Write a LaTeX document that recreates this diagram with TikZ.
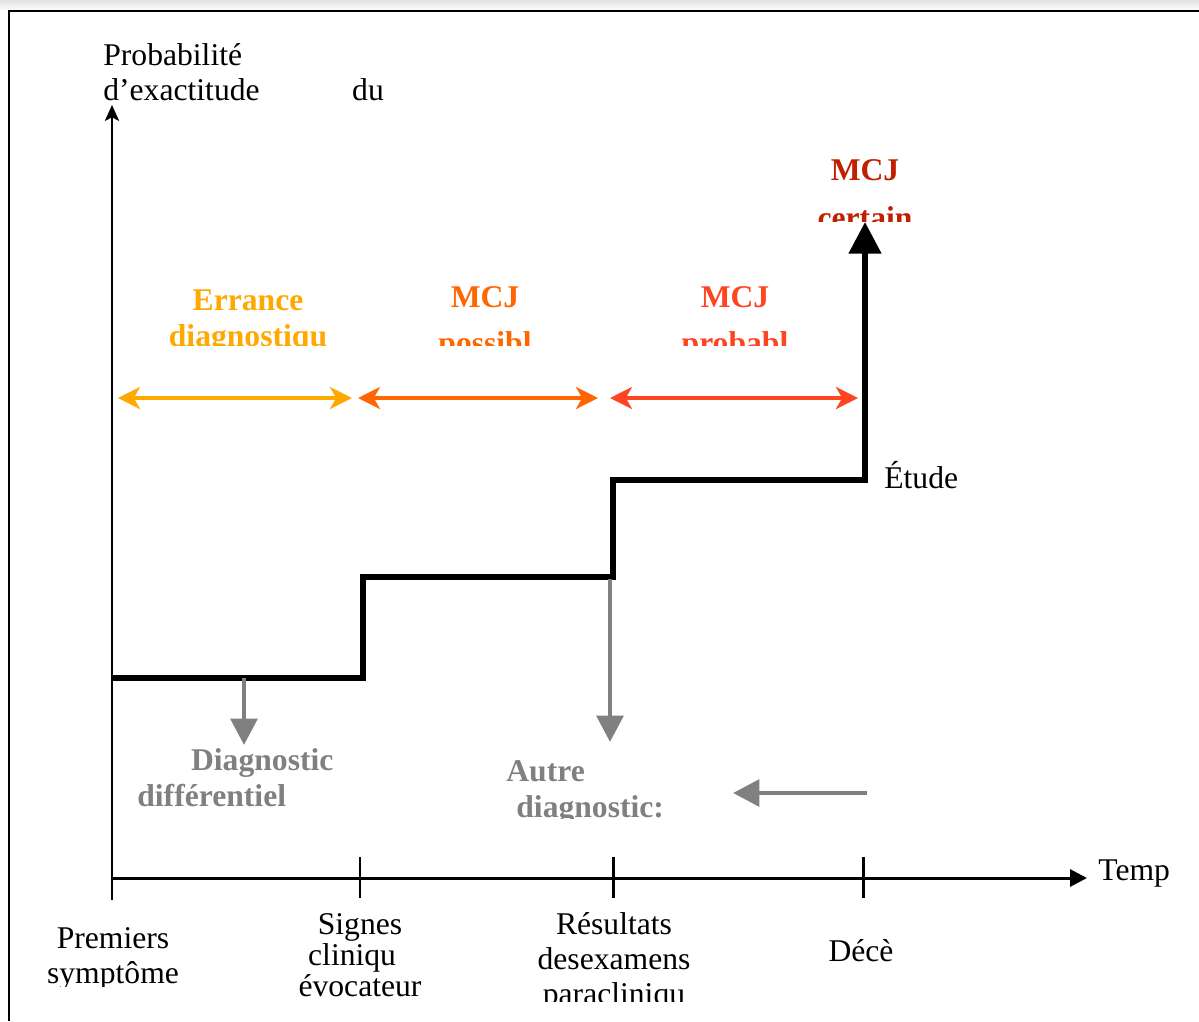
\documentclass[tikz,border=0pt]{standalone}
\usepackage{fontspec}
\setmainfont{Liberation Serif}
\usetikzlibrary{arrows.meta}
\definecolor{myamber}{RGB}{255,168,0}
\definecolor{myorange}{RGB}{255,102,0}
\definecolor{myred}{RGB}{255,68,34}
\definecolor{mydarkred}{RGB}{192,32,0}
\definecolor{mygray}{RGB}{128,128,128}

\begin{document}
\begin{tikzpicture}[x=0.02cm, y=-0.02cm,
    txt/.style={font=\fontsize{18}{19.8}\selectfont, inner sep=0pt, anchor=base, align=center},
    btxt/.style={txt, font=\bfseries\fontsize{18}{20}\selectfont},
    span/.style={line width=2.2pt, {Stealth[length=12.5pt, width=12.5pt, inset=3.5pt]}-{Stealth[length=12.5pt, width=12.5pt, inset=3.5pt]}},
    hint/.style={draw=mygray, line width=2.8pt, -{Triangle[length=15pt, width=15pt]}}]
  \useasboundingbox (0,0) rectangle (1199,1021);
  % frame
  \shade[top color=gray!22, bottom color=gray!4] (0,0) rectangle (1199,9);
  \draw[line width=1.7pt] (1199,11) -- (9,11) -- (9,1021);

  % axes (multi-line nodes sit on the baseline of their last line)
  \coordinate (o) at (112,878);
  \coordinate (ytop) at (112,105);
  \coordinate (xend) at (1087,878);
  \draw[line width=1.7pt, -{Stealth[length=9pt, width=8pt, inset=2pt]}] (o) -- (ytop);
  \draw[line width=1.7pt, -{Triangle[length=9.6pt, width=9.6pt]}] (o) -- (xend);
  \draw[line width=1.7pt] (o) -- (112,900);
  \foreach \t in {360,613,863}
    \draw[line width=1.7pt] (\t,857) -- (\t,898);
  \node[txt, anchor=base west, align=left] (ylab) at (103,100) {Probabilité\\d’exactitude\hspace{52.7pt}du};
  \node[txt, anchor=base west] (temp) at (1098,880) {Temp};

  % time marks
  \begin{scope}
    \clip (20,900) rectangle (1199,986);
    \node[txt] (premiers) at (113,983) {Premiers\\symptôme};
  \end{scope}
  \begin{scope}
    \clip (250,900) rectangle (480,999);
    \node[txt, font=\fontsize{18}{17.6}\selectfont] (signes) at (360,996) {Signes\\cliniqu\kern9pt\\évocateur};
  \end{scope}
  \begin{scope}
    \clip (500,900) rectangle (740,1001);
    \node[txt] (resultats) at (614,1004) {Résultats\\desexamens\\paracliniqu};
  \end{scope}
  \node[txt] (deces) at (861,961) {Décè};

  % step curve
  \coordinate (s0) at (112,678);
  \coordinate (s1) at (363,678);
  \coordinate (s2) at (363,577);
  \coordinate (s3) at (613,577);
  \coordinate (s4) at (613,480);
  \coordinate (s5) at (865,480);
  \coordinate (s6) at (865,222);
  \draw[line width=3.3pt, miter limit=10, -{Triangle[length=18pt, width=18pt]}]
    (s0) -- (s1) -- (s2) -- (s3) -- (s4) -- (s5) -- (s6);
  \node[txt, anchor=base west] (etude) at (884,488) {Étude};

  % phases
  \draw[span, myamber] (118,398) coordinate (a0) -- (352,398) coordinate (a1);
  \draw[span, myorange] (358,398) coordinate (a2) -- (598,398) coordinate (a3);
  \draw[span, myred] (610,398) coordinate (a4) -- (858,398) coordinate (a5);
  \begin{scope}
    \clip (120,250) rectangle (900,345);
    \node[btxt, text=myamber] (errance) at (248,346) {Errance\\diagnostiqu};
    \node[btxt, text=myorange] (possible) at (485,353) {MCJ\\[6pt]possibl};
    \node[btxt, text=myred] (probable) at (735,353) {MCJ\\[6pt]probabl};
  \end{scope}
  \begin{scope}
    \clip (780,130) rectangle (960,221);
    \node[btxt, text=mydarkred] (certain) at (865,228) {MCJ\\[7pt]certain};
  \end{scope}

  % other diagnoses
  \coordinate (g1) at (244,678);
  \coordinate (g1e) at (244,745);
  \coordinate (g2) at (610,579);
  \coordinate (g2e) at (610,742);
  \coordinate (g3) at (867,793);
  \coordinate (g3e) at (733,793);
  \draw[hint] (g1) -- (g1e);
  \draw[hint] (g2) -- (g2e);
  \draw[hint] (g3) -- (g3e);
  \node[btxt, text=mygray, anchor=base west, align=left, font=\bfseries\fontsize{18}{20.4}\selectfont] (diffdiag) at (137,806) {\hspace*{30.6pt}Diagnostic\\différentiel};
  \begin{scope}
    \clip (480,740) rectangle (720,818);
    \node[btxt, text=mygray, anchor=base west, align=left] (autre) at (506,817) {Autre\\\hspace*{5.7pt}diagnostic:};
  \end{scope}
\end{tikzpicture}
\end{document}
